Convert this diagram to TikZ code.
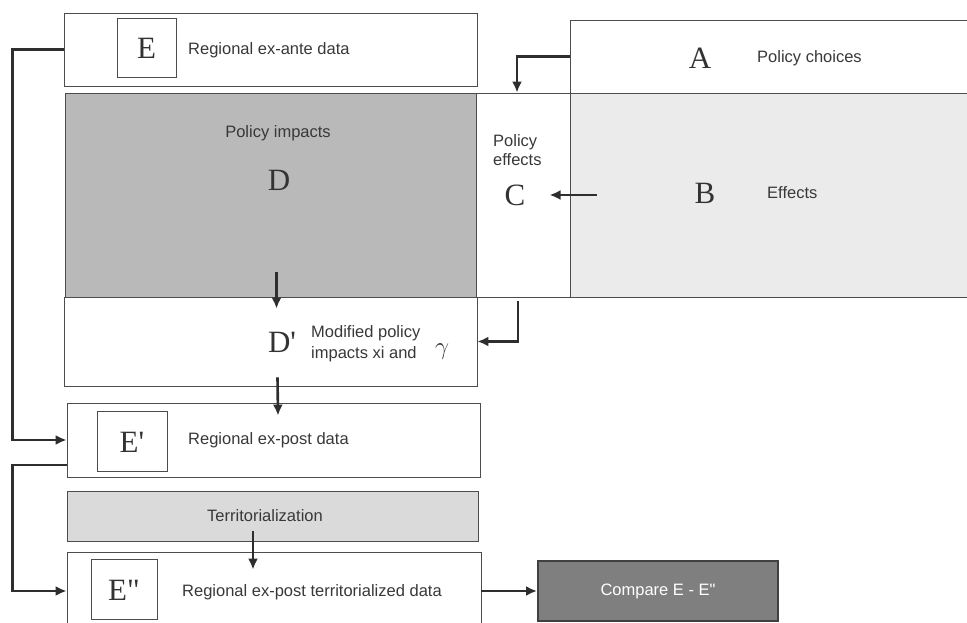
\documentclass[tikz,border=0pt]{standalone}
\usepackage{fontspec}
\setmainfont{Liberation Serif}
\setsansfont{Liberation Sans}
\usepackage{tikz}
\usetikzlibrary{positioning, arrows.meta}
\usepackage{xcolor}
\usepackage{amsmath}
\definecolor{impgray}{HTML}{B9B9B9}
\definecolor{effgray}{HTML}{EBEBEB}
\definecolor{tergray}{HTML}{DADADA}
\definecolor{cmpgray}{HTML}{7F7F7F}

\begin{document}
\begin{tikzpicture}[x = 1pt, y = 1pt, >={Latex[length=11pt, width=10pt]},
  box/.style = {draw = black!70, line width = 0.8pt, inner sep = 0pt},
  sq/.style = {box, line width = 1pt, font = \fontsize{31}{31}\selectfont, text = black!80},
  txt/.style = {font = \sffamily\fontsize{16.5}{21}\selectfont, text = black!78, inner sep = 0pt, align = left},
  big/.style = {font = \fontsize{31}{31}\selectfont, text = black!80, inner sep = 0pt},
  arr/.style = {draw = black!82, line width = 2.6pt, ->}
]
\useasboundingbox (0,0) rectangle (967,623);

% boxes
\node[box, minimum width = 413pt, minimum height = 73pt] (E) at (270.5,573.5) {};
\node[box, fill = impgray, minimum width = 411pt, minimum height = 204pt] (D) at (270.5,428) {};
\node[box, minimum width = 94pt, minimum height = 204pt] (C) at (523,428) {};
\node[box, minimum width = 405pt, minimum height = 73pt] (A) at (772.5,566.5) {};
\node[box, fill = effgray, minimum width = 405pt, minimum height = 204pt] (B) at (772.5,428) {};
\node[box, minimum width = 413pt, minimum height = 89pt] (Dp) at (270.5,281.5) {};
\node[box, minimum width = 413pt, minimum height = 74pt] (Ep) at (273.5,183) {};
\node[box, fill = tergray, minimum width = 411pt, minimum height = 50pt] (T) at (272.5,107) {};
\node[box, minimum width = 414pt, minimum height = 78pt] (Epp) at (274,32) {};
\node[box, fill = cmpgray, draw = black!75, line width = 2pt,
      minimum width = 240pt, minimum height = 60pt,
      font = \sffamily\fontsize{16.5}{20}\selectfont, text = white] (cmp) at (658,32) {Compare E - E\textquotedbl};

% letters and texts
\node[sq, minimum width = 59pt, minimum height = 59pt] (Esq) at (146.5,574.5) {E};
\node[txt, anchor = west] (Etxt) at (188,573) {Regional ex-ante data};
\node[big] (Alab) at (700,565) {A};
\node[txt, anchor = west] (Atxt) at (757,565) {Policy choices};
\node[big] (Blab) at (705,430) {B};
\node[txt, anchor = west] (Btxt) at (767,430) {Effects};
\node[txt, anchor = west, font = \sffamily\fontsize{16.5}{19}\selectfont] (Ctxt) at (493,473) {Policy\\effects};
\node[big] (Clab) at (515,428) {C};
\node[txt] (Dtxt) at (278,490) {Policy impacts};
\node[big] (Dlab) at (279,443) {D};
\node[big] (Dplab) at (282,281) {D\textquotesingle};
\node[txt, anchor = west] (Dptxt) at (311,279) {Modified policy\\impacts xi and};
\node[big] (gam) at (442,271) {$\gamma$};
\node[sq, minimum width = 70pt, minimum height = 60pt] (Epsq) at (132,181) {E\textquotesingle};
\node[txt, anchor = west] (Eptxt) at (188,183) {Regional ex-post data};
\node[txt] (Ttxt) at (265,107) {Territorialization};
\node[sq, minimum width = 66pt, minimum height = 60pt] (Eppsq) at (124,33) {E\textquotedbl};
\node[txt, anchor = west] (Epptxt) at (182,31) {Regional ex-post territorialized data};

% connectors
\draw[arr] (E.west) -- ++(-51,0) |- (Ep.west);
\draw[arr] ([yshift=-25pt]Ep.west) -- ++(-54,0) |- (Epp.west);
\draw[arr] (A.west) -| ([xshift=-6pt]C.north);
\draw[arr] ([xshift=27pt]B.west) -- ([xshift=24pt]Clab.east);
\draw[arr] ([xshift=-5pt,yshift=-4pt]C.south) |- (Dp.east);
\draw[arr] ([xshift=6pt,yshift=25pt]D.south) -- ([xshift=6pt,yshift=-12pt]Dp.north);
\draw[arr] ([xshift=7pt,yshift=9pt]Dp.south) -- ([xshift=4.5pt,yshift=-13pt]Ep.north);
\draw[arr] ([xshift=-19.5pt,yshift=10pt]T.south) -- ([xshift=-21pt,yshift=-18pt]Epp.north);
\draw[arr] (Epp.east) -- (cmp.west);
\end{tikzpicture}
\end{document}
